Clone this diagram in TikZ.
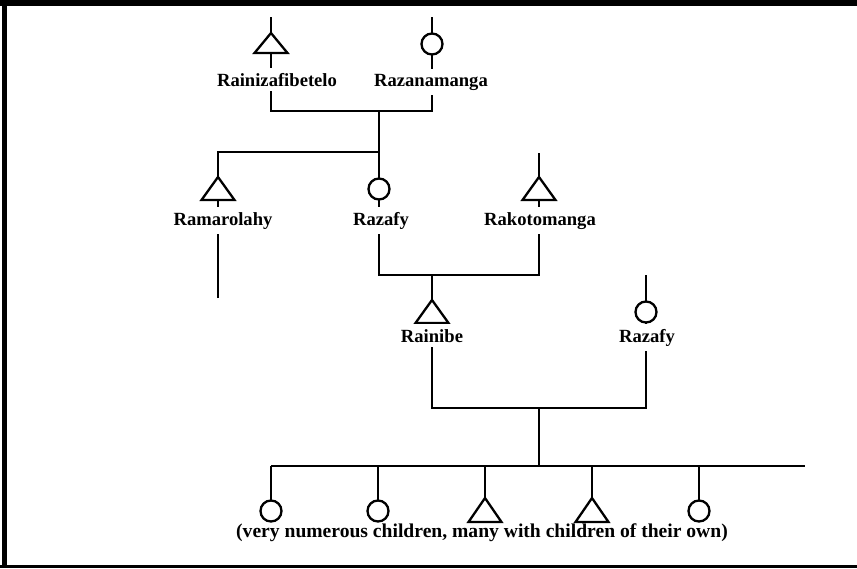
\documentclass[tikz,border=0pt]{standalone}
\usepackage{fontspec}
\setmainfont{Liberation Serif}
\begin{document}
\begin{tikzpicture}[x=1pt,y=-1pt,
  kin/.style={line width=1.8pt},
  female/.style={circle, draw, line width=2.3pt, fill=white, minimum size=21pt, inner sep=0pt},
  male/.style={draw, line width=2.3pt, fill=white, line join=miter},
  lbl/.style={fill=white, inner xsep=1pt, inner ysep=5pt, anchor=base,
              font=\fontsize{18.6}{20}\selectfont\bfseries}]
\useasboundingbox (0,0) rectangle (857,568);

% frame
\fill (0,0) rectangle (857,6);
\fill (2,0) rectangle (7,568);
\fill (0,565) rectangle (857,568);

% junction points
\coordinate (g1a) at (271,17);  \coordinate (g1b) at (432,17);
\coordinate (m1a) at (271,111); \coordinate (m1b) at (432,111);
\coordinate (m1) at (379,111);
\coordinate (s1) at (379,152);  \coordinate (s1a) at (218,152);
\coordinate (ram) at (218,298);
\coordinate (rak) at (539,153);
\coordinate (m2a) at (379,275); \coordinate (m2b) at (539,275);
\coordinate (m2) at (432,275);
\coordinate (raz) at (646,275);
\coordinate (m3a) at (432,408); \coordinate (m3b) at (646,408);
\coordinate (m3) at (539,408);
\coordinate (cb) at (539,466);
\coordinate (cbl) at (271,466); \coordinate (cbr) at (805,466);
\foreach \i/\x in {1/271,2/378,3/485,4/592,5/699}{
  \coordinate (c\i) at (\x,466);
  \coordinate (k\i) at (\x,500);
}

% descent lines
\draw[kin] (g1a) -- (m1a) -- (m1b) -- (g1b);
\draw[kin] (m1) -- (s1);
\draw[kin] (ram) -- (s1a) -- (s1) -- (m2a) -- (m2b) -- (rak);
\draw[kin] (m2) -- (m3a) -- (m3b) -- (raz);
\draw[kin] (m3) -- (cb);
\draw[kin] (cbl) -- (cbr);
\foreach \i in {1,...,5}{ \draw[kin] (c\i) -- (k\i); }

% symbols
\draw[male] (271,33) -- ++(16.5,20) -- ++(-33,0) -- cycle;
\node[female] (pRazanamanga) at (432,44) {};
\draw[male] (218,177) -- ++(16.5,23) -- ++(-33,0) -- cycle;
\node[female] (pRazafyA) at (379,189) {};
\draw[male] (539,177) -- ++(16.5,23) -- ++(-33,0) -- cycle;
\draw[male] (432,300) -- ++(16.5,23) -- ++(-33,0) -- cycle;
\node[female] (pRazafyB) at (646,312) {};
\node[female] (ch1) at (271,511) {};
\node[female] (ch2) at (378,511) {};
\draw[male] (485,498) -- ++(16.5,24) -- ++(-33,0) -- cycle;
\draw[male] (592,498) -- ++(16.5,24) -- ++(-33,0) -- cycle;
\node[female] (ch5) at (699,511) {};

% names
\node[lbl] (lRainizafibetelo) at (277,86) {Rainizafibetelo};
\node[lbl] (lRazanamanga) at (431,86) {Razanamanga};
\node[lbl] (lRamarolahy) at (223,225) {Ramarolahy};
\node[lbl] (lRazafyA) at (381,225) {Razafy};
\node[lbl] (lRakotomanga) at (540,225) {Rakotomanga};
\node[lbl] (lRainibe) at (432,342) {Rainibe};
\node[lbl] (lRazafyB) at (647,342) {Razafy};
\node[lbl, fill=none, font=\fontsize{19.6}{21}\selectfont\bfseries] (lChildren) at (482,537) {(very numerous children, many with children of their own)};
\end{tikzpicture}
\end{document}
